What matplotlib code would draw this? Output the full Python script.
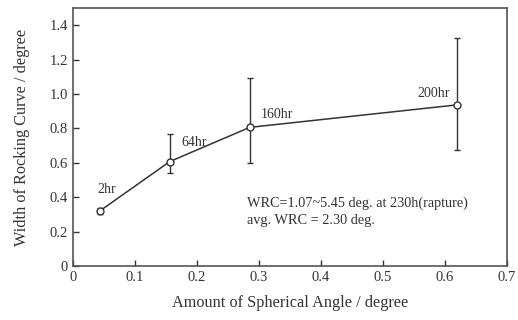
import matplotlib
matplotlib.use('Agg')
import matplotlib.pyplot as plt

# Data
angle = [0.044, 0.156, 0.285, 0.620]
width = [0.322, 0.607, 0.806, 0.937]
err_low = [0.018, 0.065, 0.206, 0.265]
err_high = [0.018, 0.161, 0.288, 0.387]
labels = ['2hr', '64hr', '160hr', '200hr']
label_pos = [(0.040, 0.425), (0.175, 0.70), (0.302, 0.86), (0.556, 0.985)]

note = 'WRC=1.07~5.45 deg. at 230h(rapture)\navg. WRC = 2.30 deg.'

plt.rcParams['font.family'] = ['Liberation Serif', 'DejaVu Serif']
ink = '#333333'

fig = plt.figure(figsize=(5.18, 3.2), dpi=100)
ax = fig.add_axes([73 / 518, 54 / 320, 434 / 518, 258 / 320])

ax.errorbar(angle, width, yerr=[err_low, err_high], color=ink, lw=1.1,
            elinewidth=1.0, capsize=2.5, capthick=1.0, marker='o', ms=5,
            mfc='white', mec=ink, mew=1.0, zorder=3)

for lab, (x, y) in zip(labels, label_pos):
    ax.text(x, y, lab, fontsize=10, color=ink)

ax.text(0.281, 0.405, note, fontsize=10.3, color=ink, va='top', linespacing=1.45)

ax.set_xlim(0, 0.7)
ax.set_ylim(0, 1.5)
ax.set_xticks([0, 0.1, 0.2, 0.3, 0.4, 0.5, 0.6, 0.7])
ax.set_xticklabels(['0', '0.1', '0.2', '0.3', '0.4', '0.5', '0.6', '0.7'])
ax.set_yticks([0, 0.2, 0.4, 0.6, 0.8, 1.0, 1.2, 1.4])
ax.set_yticklabels(['0', '0.2', '0.4', '0.6', '0.8', '1.0', '1.2', '1.4'])
ax.tick_params(direction='in', length=4, width=1, colors=ink, labelsize=10.5,
               top=False, right=False)
for s in ax.spines.values():
    s.set_color('#555555')
    s.set_linewidth(1.2)

ax.set_xlabel('Amount of Spherical Angle / degree', fontsize=11.7, color=ink,
              labelpad=8)
ax.set_ylabel('Width of Rocking Curve / degree', fontsize=11.7, color=ink,
              labelpad=14)

fig.savefig('out.png', dpi=100)
